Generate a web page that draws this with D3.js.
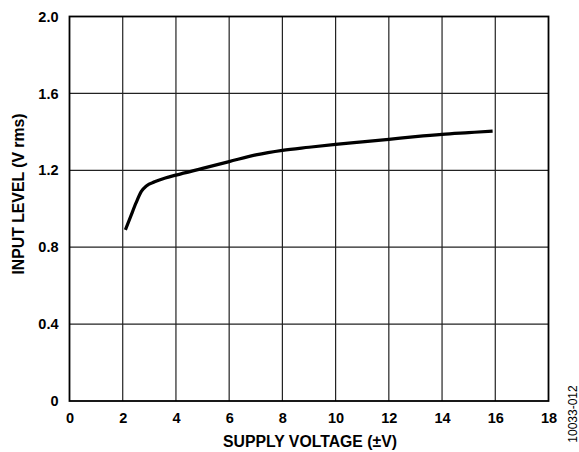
<!DOCTYPE html>
<html><head><meta charset="utf-8">
<script src="https://cdn.jsdelivr.net/npm/d3@7"></script>
<style>body{margin:0;background:#fff}svg{display:block}text{font-family:"Liberation Sans",Arial,sans-serif}</style>
</head><body>
<script>
const xTicks = [0,2,4,6,8,10,12,14,16,18];
const yTicks = [0,0.4,0.8,1.2,1.6,2.0];
const yTickLabels = ["0","0.4","0.8","1.2","1.6","2.0"];
const supplyV = [2.1,2.3,2.5,2.7,2.9,3.2,3.6,4,5,6,7,8,9,10,11,12,13,14,15,15.9];
const inputLevel = [0.89,0.96,1.03,1.09,1.12,1.14,1.16,1.175,1.21,1.245,1.28,1.304,1.32,1.335,1.348,1.361,1.375,1.387,1.396,1.404];

const W=579,H=452;
const L=69.5,R=548.5,T=16.5,B=401;
const svg=d3.select("body").append("svg").attr("width",W).attr("height",H);
const x=d3.scaleLinear().domain([0,18]).range([L,R]);
const y=d3.scaleLinear().domain([0,2]).range([B,T]);

const g=svg.append("g");
g.selectAll(".vg").data(xTicks.slice(1,-1)).join("line")
 .attr("x1",d=>x(d)).attr("x2",d=>x(d)).attr("y1",T).attr("y2",B)
 .attr("stroke","#222").attr("stroke-width",1.2);
g.selectAll(".hg").data(yTicks.slice(1,-1)).join("line")
 .attr("y1",d=>y(d)).attr("y2",d=>y(d)).attr("x1",L).attr("x2",R)
 .attr("stroke","#222").attr("stroke-width",1.2);
g.append("rect").attr("x",L).attr("y",T).attr("width",R-L).attr("height",B-T)
 .attr("fill","none").attr("stroke","#000").attr("stroke-width",1.8);

const xAxis=d3.axisBottom(x).tickValues(xTicks).tickSize(0).tickPadding(12).tickFormat(d3.format("d"));
const xa=svg.append("g").attr("transform",`translate(0,${B})`).call(xAxis);
xa.select(".domain").remove();
xa.selectAll("text").attr("font-size",14.5).attr("font-weight","bold").attr("fill","#000")
 .attr("font-family","Liberation Sans, Arial, sans-serif");

const yAxis=d3.axisLeft(y).tickValues(yTicks).tickSize(0).tickPadding(11).tickFormat((d,i)=>yTickLabels[i]);
const ya=svg.append("g").attr("transform",`translate(${L},0)`).call(yAxis);
ya.select(".domain").remove();
ya.selectAll("text").attr("font-size",14.5).attr("font-weight","bold").attr("fill","#000")
 .attr("font-family","Liberation Sans, Arial, sans-serif");

const line=d3.line().x((d,i)=>x(supplyV[i])).y(d=>y(d)).curve(d3.curveMonotoneX);
svg.append("path").datum(inputLevel).attr("d",line).attr("fill","none")
 .attr("stroke","#000").attr("stroke-width",3.2).attr("stroke-linecap","butt");

svg.append("text").attr("x",310).attr("y",447).attr("text-anchor","middle")
 .attr("font-size",15.8).attr("font-weight","bold").text("SUPPLY VOLTAGE (±V)");
svg.append("text").attr("transform",`translate(24,194) rotate(-90)`).attr("text-anchor","middle")
 .attr("font-size",15.8).attr("font-weight","bold").text("INPUT LEVEL (V rms)");
svg.append("text").attr("transform",`translate(577,414) rotate(-90)`).attr("text-anchor","middle")
 .attr("font-size",12).text("10033-012");
</script>
</body></html>
